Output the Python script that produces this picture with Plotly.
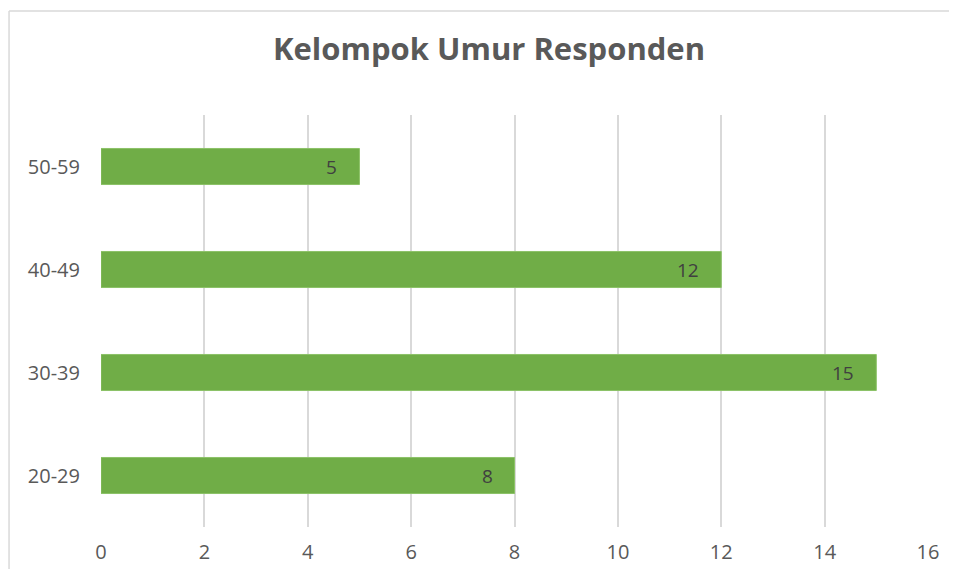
import plotly.graph_objects as go

age_groups = ["20-29", "30-39", "40-49", "50-59"]
counts = [8, 15, 12, 5]
x_ticks = [0, 2, 4, 6, 8, 10, 12, 14, 16]

# page body adds an 8px margin on every side; keep the figure inside the window
W, H = 941, 561

fig = go.Figure()

fig.add_trace(go.Bar(
    y=age_groups,
    x=counts,
    orientation="h",
    marker=dict(color="#70AD47", line=dict(color="#8cc267", width=1)),
    hoverinfo="x+y",
))

# value labels sitting just inside the bar end
annotations = [
    dict(
        x=v, y=g, xref="x", yref="y",
        text=str(v), showarrow=False,
        xanchor="right", xshift=-20,
        font=dict(size=19, color="#404040"),
    )
    for g, v in zip(age_groups, counts)
]

frame = dict(color="#d9d9d9", width=1.5)

fig.update_layout(
    width=W,
    height=H,
    plot_bgcolor="white",
    paper_bgcolor="white",
    font=dict(family="Open Sans", color="#595959"),
    title=dict(
        text="<b>Kelompok Umur Responden</b>",
        x=481 / W, xanchor="center",
        y=1 - 41 / H, yanchor="middle",
        font=dict(size=31, color="#595959"),
    ),
    margin=dict(l=93, r=21, t=107, b=42),
    bargap=0.65,
    showlegend=False,
    annotations=annotations,
    xaxis=dict(
        range=[0, 16],
        tickvals=x_ticks,
        showgrid=True,
        gridcolor="#d9d9d9",
        gridwidth=1.5,
        zeroline=False,
        showline=False,
        ticks="",
        tickfont=dict(size=20, color="#595959"),
        ticklabelstandoff=11,
        automargin=False,
    ),
    yaxis=dict(
        categoryorder="array",
        categoryarray=age_groups,
        showgrid=False,
        zeroline=False,
        showline=False,
        ticks="",
        tickfont=dict(size=20, color="#595959"),
        ticklabelstandoff=20,
        automargin=False,
    ),
    # chart frame: only the left and top edges fall inside the cropped picture
    shapes=[
        dict(type="line", xref="paper", yref="paper",
             x0=-0.1112, x1=-0.1112, y0=-0.2, y1=1.2524, line=frame),
        dict(type="line", xref="paper", yref="paper",
             x0=-0.1112, x1=1.15, y0=1.2524, y1=1.2524, line=frame),
    ],
)

fig.write_html("out.html")
